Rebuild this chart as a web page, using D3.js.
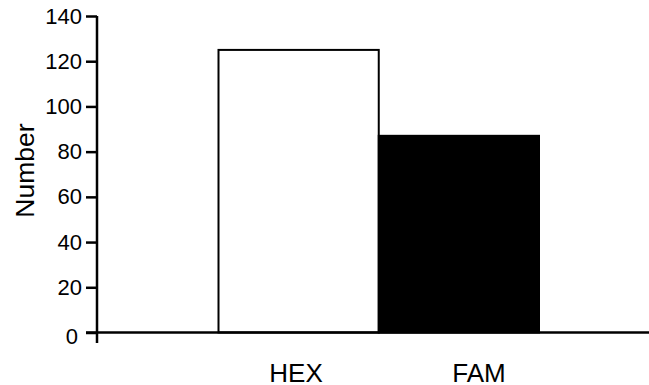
<!DOCTYPE html>
<html><head><meta charset="utf-8">
<script src="https://cdn.jsdelivr.net/npm/d3@7"></script>
<style>body{margin:0;background:#fff}svg{display:block}text{font-family:"Liberation Sans",Arial,sans-serif}</style>
</head><body>
<svg id="c" width="649" height="385"></svg>
<script>
const categories = ["HEX", "FAM"];
const values = [125, 87];
const fills = ["#ffffff", "#000000"];
const yTicks = [0, 20, 40, 60, 80, 100, 120, 140];
const yLabel = "Number";

const svg = d3.select("#c");
const axisX = 97, y0 = 332.5, y140 = 16;
const y = d3.scaleLinear().domain([0, 140]).range([y0, y140]);
const x = d3.scaleBand().domain(categories).range([218.5, 539]).padding(0);
const xLab = d3.scalePoint().domain(categories).range([296, 479]);

// bars
svg.selectAll("rect.bar").data(categories).enter().append("rect")
  .attr("class", "bar")
  .attr("x", d => x(d))
  .attr("width", x.bandwidth())
  .attr("y", (d, i) => y(values[i]))
  .attr("height", (d, i) => y(0) - y(values[i]))
  .attr("fill", (d, i) => fills[i])
  .attr("stroke", "#000").attr("stroke-width", 2);

// x axis line
svg.append("line").attr("x1", 86).attr("x2", 649).attr("y1", y0).attr("y2", y0)
  .attr("stroke", "#000").attr("stroke-width", 2.5);

// y axis
const yAxis = d3.axisLeft(y).tickValues(yTicks).tickSize(11).tickPadding(4).tickSizeOuter(0);
const gy = svg.append("g").attr("transform", `translate(${axisX},0)`).call(yAxis);
gy.attr("font-size", null).attr("font-family", null);
gy.select(".domain").remove();
gy.selectAll(".tick line").attr("stroke", "#000").attr("stroke-width", 2.5);
gy.selectAll(".tick text").style("font-size", "22px").attr("fill", "#000")
  .style("font-family", "Liberation Sans, Arial, sans-serif");
gy.selectAll(".tick").filter(d => d === 0).select("text").attr("x", -19).attr("dy", "0.5em");
svg.append("line").attr("x1", axisX).attr("x2", axisX).attr("y1", y140).attr("y2", 343)
  .attr("stroke", "#000").attr("stroke-width", 2.5);

// x labels
svg.selectAll("text.xl").data(categories).enter().append("text")
  .attr("class", "xl")
  .attr("x", d => xLab(d))
  .attr("y", 381.5)
  .attr("text-anchor", "middle")
  .style("font-size", "26px")
  .text(d => d);

// y label
svg.append("text")
  .attr("transform", "translate(34,170.5) rotate(-90)")
  .attr("text-anchor", "middle")
  .style("font-size", "26.5px")
  .text(yLabel);
</script>
</body></html>
